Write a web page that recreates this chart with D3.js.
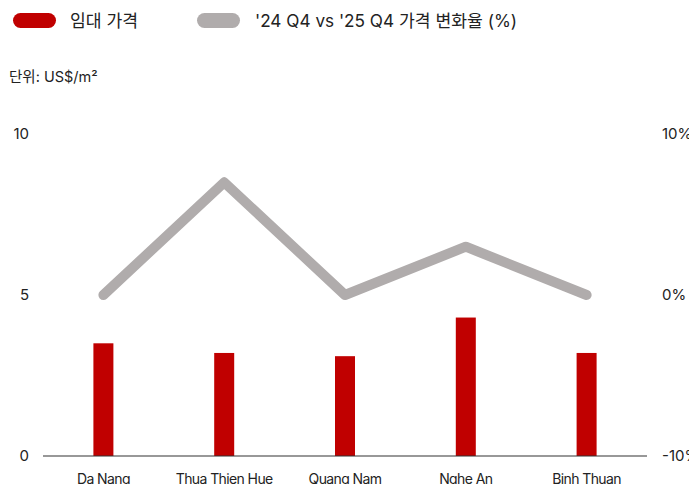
<!DOCTYPE html>
<html><head><meta charset="utf-8">
<script src="https://cdn.jsdelivr.net/npm/d3@7"></script>
<style>
body{margin:0;background:#fff;}
text{font-family:Inter,"Noto Sans CJK KR",sans-serif;fill:#222;}
</style></head>
<body><svg id="c" width="689" height="484"></svg>
<script>
const categories = ["Da Nang","Thua Thien Hue","Quang Nam","Nghe An","Binh Thuan"];
const rentValues = [3.5, 3.2, 3.1, 4.3, 3.2];
const changeValues = [0, 7, 0, 3, 0];
const leftTicks = [0, 5, 10];
const rightTicks = [-10, 0, 10];
const legendLabels = ["임대 가격", "'24 Q4 vs '25 Q4 가격 변화율 (%)"];
const unitLabel = "단위: US$/m²";

const svg = d3.select("#c");
const red = "#c00000", gray = "#b0acac";

const x = d3.scaleBand().domain(categories).range([43, 647]).padding(0);
const yL = d3.scaleLinear().domain([0, 10]).range([456, 134]);
const yR = d3.scaleLinear().domain([-10, 10]).range([456, 134]);

// legend
const lg = svg.append("g");
[[red, legendLabels[0], 13, 70], [gray, legendLabels[1], 197, 255]].forEach(([c, t, rx, tx]) => {
  lg.append("rect").attr("x", rx).attr("y", 13).attr("width", 43).attr("height", 15).attr("rx", 7.5).attr("fill", c);
  lg.append("text").attr("x", tx).attr("y", 21).attr("dy", "0.35em").attr("font-size", 17.2).text(t);
});
svg.append("text").attr("x", 9).attr("y", 77).attr("dy", "0.35em").attr("font-size", 14.5).text(unitLabel);

// left axis labels
svg.append("g").selectAll("text").data(leftTicks).join("text")
  .attr("x", 29).attr("y", d => yL(d)).attr("dy", "0.35em").attr("text-anchor", "end")
  .attr("font-size", 15).text(d => d);
// right axis labels
svg.append("g").selectAll("text").data(rightTicks).join("text")
  .attr("x", 662).attr("y", d => yR(d)).attr("dy", "0.35em").attr("text-anchor", "start")
  .attr("font-size", 15).text(d => d + "%");

// bars
const bw = 20;
svg.append("g").selectAll("rect").data(categories).join("rect")
  .attr("x", d => x(d) + x.bandwidth() / 2 - bw / 2)
  .attr("y", (d, i) => yL(rentValues[i]))
  .attr("width", bw)
  .attr("height", (d, i) => yL(0) - yL(rentValues[i]))
  .attr("fill", red);

// baseline
svg.append("line").attr("x1", 43).attr("x2", 647).attr("y1", yL(0)).attr("y2", yL(0))
  .attr("stroke", "#333").attr("stroke-width", 1.2);

// category labels
svg.append("g").selectAll("text").data(categories).join("text")
  .attr("x", d => x(d) + x.bandwidth() / 2).attr("y", 479).attr("dy", "0.35em")
  .attr("text-anchor", "middle").attr("font-size", 14).attr("letter-spacing", "-0.6px").text(d => d);

// line
const line = d3.line().x((d, i) => x(categories[i]) + x.bandwidth() / 2).y(d => yR(d));
svg.append("path").datum(changeValues).attr("d", line).attr("fill", "none")
  .attr("stroke", gray).attr("stroke-width", 10).attr("stroke-linecap", "round").attr("stroke-linejoin", "round");
</script></body></html>
